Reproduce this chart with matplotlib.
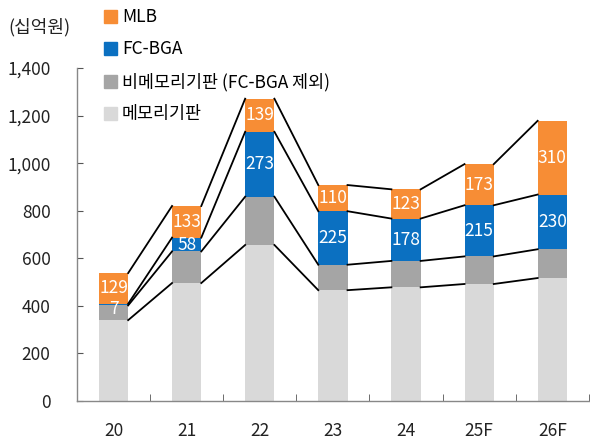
import matplotlib
matplotlib.use("Agg")
import matplotlib.pyplot as plt
from matplotlib.patches import Patch
import numpy as np

plt.rcParams['font.family'] = ['Noto Sans CJK KR', 'DejaVu Sans']

categories = ['20', '21', '22', '23', '24', '25F', '26F']
memory = [340, 496, 656, 466, 478, 492, 517]
nonmemory = [62, 133, 203, 107, 111, 116, 121]
fcbga = [7, 58, 273, 225, 178, 215, 230]
mlb = [129, 133, 139, 110, 123, 173, 310]

series = [
    ('메모리기판', memory, '#D9D9D9', False),
    ('비메모리기판 (FC-BGA 제외)', nonmemory, '#A5A5A5', False),
    ('FC-BGA', fcbga, '#0B70C1', True),
    ('MLB', mlb, '#F78D35', True),
]

fig = plt.figure(figsize=(5.9, 4.4), dpi=100)
ax = fig.add_axes([0.1305, 0.0886, 0.8675, 0.7568])

x = np.arange(len(categories))
w = 0.4
bottom = np.zeros(len(categories))
handles = {}
for name, vals, color, label in series:
    vals = np.array(vals, dtype=float)
    ax.bar(x, vals, w, bottom=bottom, color=color, zorder=2)
    handles[name] = Patch(color=color)
    if label:
        for xi, b, v in zip(x, bottom, vals):
            dy = -3 if v < 30 else 0
            ax.annotate(f'{int(v)}', (xi, b + v / 2), xytext=(0, dy),
                        textcoords='offset points', ha='center', va='center',
                        color='white', fontsize=12.5, zorder=4)
    top = bottom + vals
    for i in range(len(categories) - 1):
        ax.plot([x[i] + w / 2, x[i + 1] - w / 2], [top[i], top[i + 1]],
                color='black', lw=1.3, zorder=3)
    bottom = top

ax.set_xlim(-0.5, len(categories) - 0.5)
ax.set_ylim(0, 1400)
ax.set_yticks(np.arange(0, 1401, 200))
ax.set_yticklabels([f'{v:,}' for v in range(0, 1401, 200)])
ax.set_xticks(x)
ax.set_xticklabels(categories)
ax.set_xticks(np.arange(0.5, len(categories), 1), minor=True)
ax.tick_params(axis='x', which='major', length=0, labelsize=12.5, pad=15, colors='#222222')
ax.tick_params(axis='x', which='minor', direction='in', length=5, color='#555555')
ax.tick_params(axis='y', direction='in', length=4, labelsize=12.5, pad=19, colors='#222222')
ax.tick_params(axis='y', color='#555555')
for s in ['top', 'right']:
    ax.spines[s].set_visible(False)
for s in ['left', 'bottom']:
    ax.spines[s].set_color('#888888')
    ax.spines[s].set_linewidth(1.0)

order = ['MLB', 'FC-BGA', '비메모리기판 (FC-BGA 제외)', '메모리기판']
leg = fig.legend([handles[n] for n in order], order, loc='upper left',
                 bbox_to_anchor=(0.158, 1.005), frameon=False, fontsize=12.5,
                 handlelength=0.75, handleheight=0.75, handletextpad=0.3,
                 labelspacing=0.82, borderaxespad=0.2)

fig.text(0.015, 0.937, '(십억원)', fontsize=13, ha='left', va='center', color='#222222')

fig.savefig('out.png', dpi=100)
